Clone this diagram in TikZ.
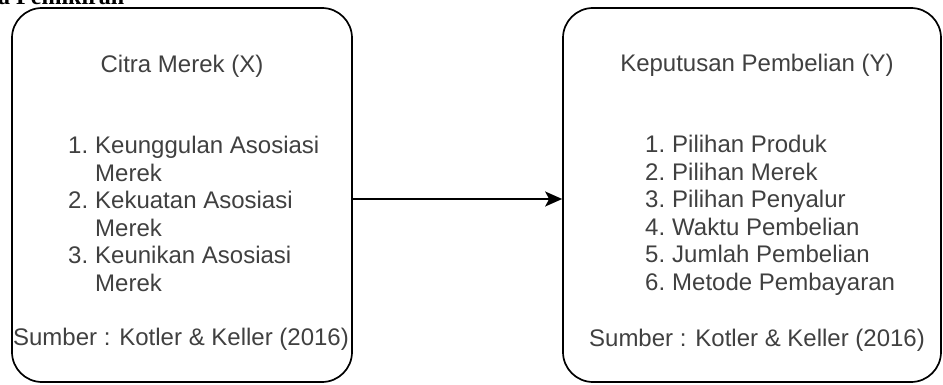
\documentclass[tikz,border=0pt]{standalone}
\usepackage{fontspec}
\setmainfont{Liberation Sans}
\newfontfamily\judulfont{Liberation Serif}
\usepackage{tikz}
\usetikzlibrary{arrows.meta}
\tikzstyle{kotak}=[draw=black, line width=1.7pt, rounded corners=30pt, shape=rectangle, inner sep=0pt, minimum height=374pt]
\tikzstyle{teks}=[text=black!75, inner sep=0pt, font=\fontsize{24}{27.5}\selectfont]
\tikzstyle{panah}=[line width=1.6pt, -{Stealth[length=17pt, width=15pt, inset=4pt]}]

\begin{document}
\begin{tikzpicture}[x=1pt, y=-1pt]
		\clip (0,0) rectangle (943,385);
		\node[anchor=base west, inner sep=0pt, font=\judulfont\bfseries\fontsize{24}{26}\selectfont] (0) at (-2,5) {a Pemikiran};

		\node[style=kotak, minimum width=340pt] (1) at (182,195) {};
		\node[style=kotak, minimum width=378pt] (2) at (752,195) {};

		\draw[style=panah] ([yshift=-4pt]1.east) -- ([yshift=-4pt]2.west);

		\node[style=teks, anchor=base] (3) at (182,73) {Citra Merek (X)};
		\node[style=teks, anchor=base west] (4) at (68,154) {\begin{tabular}[t]{@{}l@{\hspace{7pt}}l@{}}
			1. & Keunggulan Asosiasi\\
			   & Merek\\
			2. & Kekuatan Asosiasi\\
			   & Merek\\
			3. & Keunikan Asosiasi\\
			   & Merek
		\end{tabular}};
		\node[style=teks, anchor=base] (5) at (181,345) {Sumber : Kotler \& Keller (2016)};

		\node[style=teks, anchor=base] (6) at (757,72) {Keputusan Pembelian (Y)};
		\node[style=teks, anchor=base west] (7) at (645,153) {\begin{tabular}[t]{@{}l@{\hspace{7pt}}l@{}}
			1. & Pilihan Produk\\
			2. & Pilihan Merek\\
			3. & Pilihan Penyalur\\
			4. & Waktu Pembelian\\
			5. & Jumlah Pembelian\\
			6. & Metode Pembayaran
		\end{tabular}};
		\node[style=teks, anchor=base] (8) at (757,346) {Sumber : Kotler \& Keller (2016)};
	\end{tikzpicture}
\end{document}
